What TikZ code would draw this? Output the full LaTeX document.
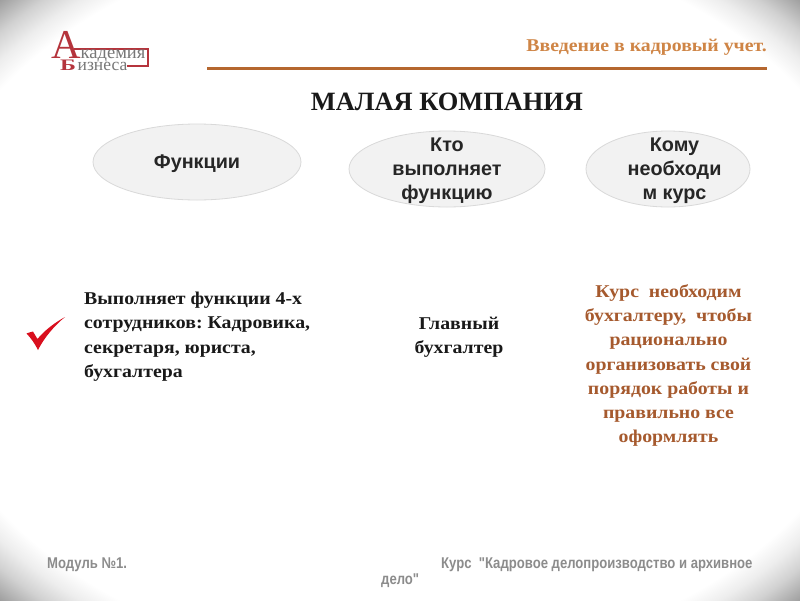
\documentclass[tikz,border=0pt]{standalone}
\usepackage{fontspec}
\usepackage{graphicx}
\setmainfont{Liberation Serif}
\setsansfont{Liberation Sans}
\newfontfamily\narrowfont[FakeStretch=0.84]{Liberation Sans}
\newfontfamily\wideserif[FakeStretch=1.1]{Liberation Serif}
\definecolor{ovalfill}{HTML}{F2F2F2}
\definecolor{ovaldraw}{HTML}{D9D9D9}
\definecolor{headcol}{HTML}{CF8546}
\definecolor{rulecol}{HTML}{B5672F}
\definecolor{bodybrown}{HTML}{A65A2E}
\definecolor{logored}{HTML}{B5343C}
\definecolor{logogray}{HTML}{777777}
\definecolor{footgray}{HTML}{8C8C8C}
\definecolor{checkred}{HTML}{D90F1E}
\pgfdeclareradialshading{vign}{\pgfpoint{0bp}{0bp}}{color(0bp)=(white);color(30.5bp)=(white);color(32bp)=(black!7);color(33.5bp)=(black!18);color(35.4bp)=(black!38);color(50bp)=(black!38)}
\tikzset{
  oval/.style={ellipse,draw=ovaldraw,fill=ovalfill,line width=0.8pt,inner sep=0pt},
  ovaltext/.style={font=\sffamily\bfseries\fontsize{19.8}{24.2}\selectfont,align=center,text=black!85},
  body/.style={font=\frenchspacing\wideserif\bfseries\fontsize{18}{24.2}\selectfont,text=black!90},
  foot/.style={font=\narrowfont\bfseries\fontsize{15.6}{18}\selectfont,text=footgray,anchor=west,inner sep=0pt},
  logotxt/.style={text=logogray,inner sep=0pt,anchor=base west},
  logocap/.style={text=logored,inner sep=0pt,anchor=base west}
}
\usetikzlibrary{shapes.geometric}
\begin{document}
\begin{tikzpicture}[x=1pt,y=-1pt]
\useasboundingbox (0,0) rectangle (800,600);
\shade[shading=vign] (0,0) rectangle (800,600);
% logo
\draw[logored,line width=1.2pt] (74,49) -- (148,49) -- (148,66) -- (127,66);
\node[logocap,font=\fontsize{41}{41}\selectfont] (capa) at (51,58.5) {А};
\node[logocap,font=\bfseries\fontsize{16}{16}\selectfont] (capb) at (60,70.5) {\scalebox{1.5}[1]{Б}};
\node[logotxt,font=\fontsize{18.5}{19}\selectfont] (la) at (80.5,58.5) {кадемия};
\node[logotxt,font=\fontsize{17.5}{17}\selectfont] (lb) at (77.5,70.5) {изнеса};
% header
\node[anchor=east,inner sep=0pt,text=headcol,font=\wideserif\bfseries\fontsize{18}{20}\selectfont] (head) at (767,47) {Введение в кадровый учет.};
\coordinate (ruleL) at (207,68.5);
\coordinate (ruleR) at (767,68.5);
\draw[rulecol,line width=2.6pt] (ruleL) -- (ruleR);
\node[inner sep=0pt,font=\bfseries\fontsize{26.4}{28}\selectfont,text=black!90] (title) at (447,102) {МАЛАЯ КОМПАНИЯ};
% ovals
\node[oval,minimum width=208pt,minimum height=76pt] (o1) at (197,162) {};
\node[ovaltext] at (197,164) {Функции};
\node[oval,minimum width=196pt,minimum height=76pt] (o2) at (447,169) {};
\node[ovaltext] at (447,171) {Кто\\выполняет\\функцию};
\node[oval,minimum width=164pt,minimum height=76pt] (o3) at (668,169) {};
\node[ovaltext] at (674.5,171) {Кому\\необходи\\м курс};
% check mark
\fill[checkred] (26.5,333.5) .. controls (29,332.5) and (31,332) .. (33,331.5) .. controls (34.5,334) and (36,336.5) .. (37.5,339) .. controls (44,331) and (54,323) .. (65,317) .. controls (54,326) and (44,338) .. (38,350) .. controls (35,344) and (31,338) .. (26.5,333.5) -- cycle;
% bodies
\node[body,anchor=north west,inner sep=0pt,align=left] (b1) at (84,292) {Выполняет функции 4-х\\сотрудников: Кадровика,\\секретаря, юриста,\\бухгалтера};
\node[body,align=center,inner sep=0pt] (b2) at (459,337) {Главный\\бухгалтер};
\node[body,align=center,inner sep=0pt,text=bodybrown] (b3) at (668.5,365.5) {Курс\ \ необходим\\бухгалтеру,\ \ чтобы\\рационально\\организовать свой\\порядок работы и\\правильно все\\оформлять};
% footer
\node[foot] (f1) at (47,565) {Модуль №1.};
\node[foot] (f2) at (441,565) {Курс\ \ "Кадровое делопроизводство и архивное};
\node[foot] (f3) at (381,581) {дело"};
\end{tikzpicture}
\end{document}
